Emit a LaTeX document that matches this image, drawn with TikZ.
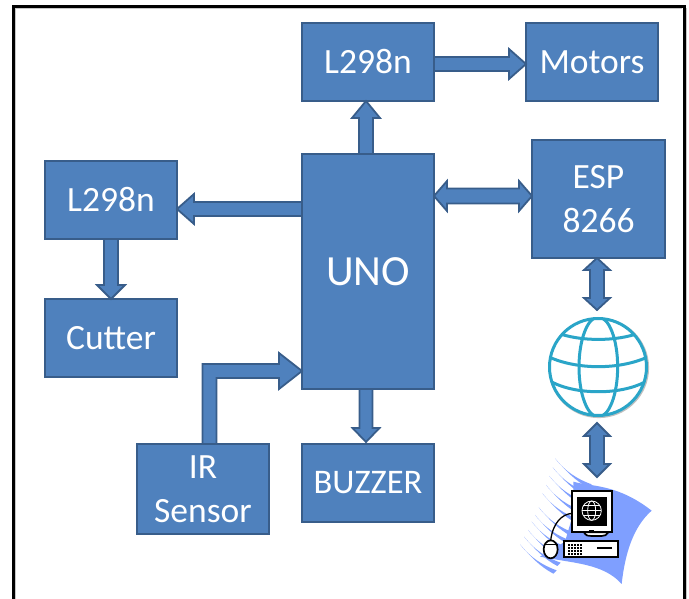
\documentclass[tikz,border=0pt]{standalone}
\usepackage{fontspec}
\setmainfont{Carlito}
\usetikzlibrary{calc}
\definecolor{boxfill}{HTML}{4F81BD}
\definecolor{boxline}{HTML}{385D8A}
\definecolor{ring}{HTML}{2AA5C8}
\definecolor{swoosh}{HTML}{7F9FFF}
\newcommand\tl[1]{\raisebox{-2.4pt}{#1}}
\tikzset{
  block/.style={draw=boxline,fill=boxfill,line width=1.8pt,text=white,inner sep=0pt,outer sep=0pt,
    align=center,font=\fontsize{35.5}{44.5}\selectfont,minimum width=#1},
  block/.default=132pt,
  barrowstyle/.style={draw=boxline,fill=boxfill,line width=1.8pt,line join=miter},
  frameline/.style={draw=black,line width=2.4pt},
  frameshade/.style={draw=black!22,line width=1pt},
  ringline/.style={draw=ring,line width=3pt},
  clipart/.style={draw=black,line width=1.7pt,fill=white},
}
% single-headed block arrow: from, to, half shaft, half head, head length
\newcommand\barrow[5]{%
  \coordinate (hb) at ($(#2)!#5!(#1)$);
  \draw[barrowstyle] ($(#1)!#3!90:(#2)$) -- ($(hb)!#3!-90:(#1)$) -- ($(hb)!#4!-90:(#1)$) -- (#2)
    -- ($(hb)!#4!90:(#1)$) -- ($(hb)!#3!90:(#1)$) -- ($(#1)!#3!-90:(#2)$) -- cycle;}
% double-headed block arrow
\newcommand\dbarrow[5]{%
  \coordinate (hb) at ($(#2)!#5!(#1)$);
  \coordinate (ha) at ($(#1)!#5!(#2)$);
  \draw[barrowstyle] (#1) -- ($(ha)!#4!90:(#2)$) -- ($(ha)!#3!90:(#2)$) -- ($(hb)!#3!-90:(#1)$)
    -- ($(hb)!#4!-90:(#1)$) -- (#2) -- ($(hb)!#4!90:(#1)$) -- ($(hb)!#3!90:(#1)$)
    -- ($(ha)!#3!-90:(#2)$) -- ($(ha)!#4!-90:(#2)$) -- cycle;}
\begin{document}
\begin{tikzpicture}[x=1pt,y=-1pt]
\useasboundingbox (0,0) rectangle (689,599);
% frame
\draw[frameshade] (15.5,599) -- (15.5,8.5) -- (682,8.5);
\draw[frameshade] (686.5,8) -- (686.5,599);
\draw[frameline] (13.5,599) -- (13.5,6.5) -- (684.5,6.5) -- (684.5,599);
% blocks
\node[block,minimum height=78pt] (ltop) at (368,62) {\tl{L298n}};
\node[block,minimum height=78pt] (motors) at (592,62) {\tl{Motors}};
\node[block,minimum height=235pt,font=\fontsize{43}{50}\selectfont] (uno) at (368,271.5) {\tl{UNO}};
\node[block=133pt,minimum height=118pt] (esp) at (598.5,199) {\tl{ESP}\\\tl{8266}};
\node[block,minimum height=78pt] (lleft) at (111,200) {\tl{L298n}};
\node[block,minimum height=78pt] (cutter) at (111,338) {\tl{Cutter}};
\node[block,minimum height=90pt] (ir) at (203,489) {\tl{IR}\\\tl{Sensor}};
\node[block,minimum height=78pt,font=\fontsize{34.5}{42}\selectfont] (buzzer) at (368,483) {\tl{BUZZER}};
% globe
\fill[black!45,opacity=.55] (598.8,367.8) circle (50.3);
\node[circle,draw=ring,fill=white,line width=3pt,minimum size=97pt,inner sep=0pt,outer sep=0pt] (globe) at (598,367) {};
\begin{scope}[shift={(510,300)},scale=1/3]
  \clip (265,201) circle (146);
  \draw[ringline] (265,201) ellipse (58 and 150);
  \draw[ringline] (140,98) .. controls (210,125) and (320,125) .. (390,98);
  \draw[ringline] (115,170) .. controls (200,210) and (330,210) .. (415,170);
  \draw[ringline] (125,246) .. controls (200,285) and (330,285) .. (405,246);
\end{scope}
% clip art
\begin{scope}[shift={(510,300)},scale=1/3]
  \fill[swoosh] (190,545) .. controls (240,560) and (320,550) .. (425,632)
     .. controls (370,680) and (345,760) .. (335,852)
     .. controls (280,790) and (190,790) .. (90,770)
     -- (165,725) -- (190,640) -- cycle;
  \foreach \tx/\ty in {135/475,128/502,118/528,108/555,97/580,86/622,75/645,65/665,54/690,42/710,30/733}{
    \fill[swoosh,shift={(\tx,\ty)}] (0,0) .. controls (30,38) and (65,62) .. (110,78)
       -- (100,88) .. controls (60,67) and (30,35) .. (0,0) -- cycle;
  }
  % monitor
  \draw[clipart] (222,697) .. controls (228,708) and (235,708) .. (245,708) -- (275,708)
      .. controls (285,708) and (290,705) .. (295,697) -- cycle;
  \draw[clipart] (187,572) rectangle (305,697);
  \fill[black] (202,590) rectangle (290,678);
  \fill[black] (238,689) rectangle (252,696);
  \draw[white,line width=.8pt] (245,632) circle (29);
  \draw[white,line width=.8pt] (245,632) ellipse (12 and 29);
  \draw[white,line width=.8pt] (216,632) -- (274,632) (220,617) -- (270,617) (220,647) -- (270,647);
  % base unit
  \draw[clipart] (163,722) rectangle (325,772);
  \foreach \gx in {177,186,195,204,213}{\foreach \gy in {736,745,754,762}{
    \fill[black] (\gx-3,\gy-3) rectangle (\gx+3,\gy+3);}}
  \fill[black] (260,740) rectangle (305,747);
  % mouse
  \draw[black,line width=1.3pt] (122,722) .. controls (128,670) and (155,642) .. (187,640);
  \draw[clipart] (122,748) ellipse (21 and 27);
  \draw[black,line width=1pt] (101,735) -- (143,735);
\end{scope}
% connectors
\coordinate (a1) at ($(uno.north)+(-2,0)$);
\coordinate (a1e) at (a1 |- ltop.south);
\barrow{a1}{a1e}{7pt}{14pt}{17pt}
\coordinate (a2) at ($(ltop.east)+(0,2)$);
\coordinate (a2e) at (a2 -| motors.west);
\barrow{a2}{a2e}{7pt}{15pt}{17pt}
\coordinate (a3) at (uno.east |- 434,196);
\coordinate (a3e) at (a3 -| esp.west);
\dbarrow{a3}{a3e}{7.5pt}{15pt}{13pt}
\coordinate (a4) at (uno.west |- 302,209);
\coordinate (a4e) at (a4 -| lleft.east);
\barrow{a4}{a4e}{7pt}{15pt}{17pt}
\barrow{lleft.south}{cutter.north}{7pt}{14pt}{14pt}
\coordinate (a6) at ($(uno.south)+(-2,0)$);
\coordinate (a6e) at (a6 |- 366,442);
\barrow{a6}{a6e}{6.5pt}{13.5pt}{14pt}
\coordinate (a7) at ($(esp.south)+(-1.5,0)$);
\coordinate (a7e) at (a7 |- 597,310);
\dbarrow{a7}{a7e}{7pt}{13pt}{12pt}
\coordinate (a8) at ($(globe.south)+(-1,7.5)$);
\coordinate (pctop) at (597,477);
\dbarrow{a8}{pctop}{7pt}{13pt}{13pt}
% elbow arrow IR -> UNO
\coordinate (e1) at ($(ir.north)+(6.5,0)$);
\coordinate (e2) at (uno.west |- 303,371);
\draw[barrowstyle] ($(e1)+(-7,0)$) |- ($(e2)+(-23,-7)$) -- ($(e2)+(-23,-18)$) -- (e2)
   -- ($(e2)+(-23,18)$) -- ($(e2)+(-23,7)$) -| ($(e1)+(7,0)$) -- cycle;
\end{tikzpicture}
\end{document}
